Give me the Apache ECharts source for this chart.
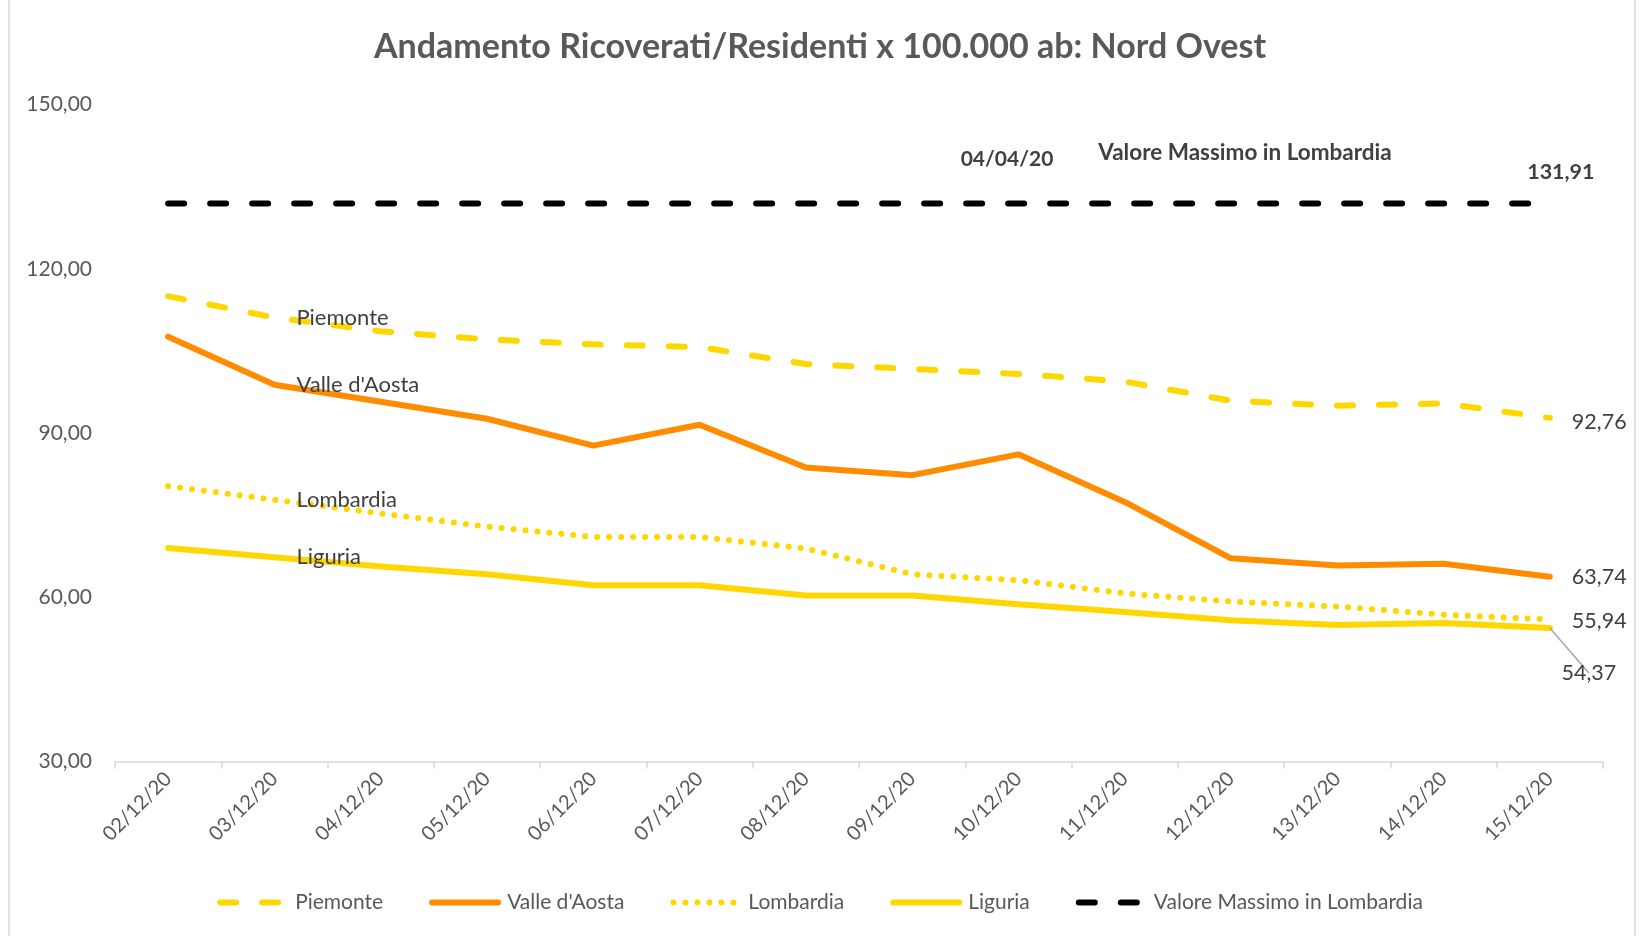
<!DOCTYPE html>
<html>
<head>
<meta charset="utf-8">
<script src="https://cdn.jsdelivr.net/npm/echarts@6.0.0/dist/echarts.min.js"></script>
<style>
  html, body { margin: 0; padding: 0; background: #fff; }
  #chart { width: 1640px; height: 936px; }
</style>
</head>
<body>
<div id="chart"></div>
<script>
const categories = ['02/12/20', '03/12/20', '04/12/20', '05/12/20', '06/12/20', '07/12/20', '08/12/20',
  '09/12/20', '10/12/20', '11/12/20', '12/12/20', '13/12/20', '14/12/20', '15/12/20']
const piemonte = [115.0, 111.1, 108.6, 107.1, 106.2, 105.7, 102.6, 101.7, 100.8, 99.4, 95.9, 95.0, 95.4, 92.76]
const valleAosta = [107.6, 98.8, 95.7, 92.6, 87.7, 91.5, 83.7, 82.3, 86.1, 77.4, 67.1, 65.8, 66.1, 63.74]
const lombardia = [80.3, 77.8, 75.3, 72.9, 71.0, 71.0, 68.9, 64.2, 63.1, 60.7, 59.2, 58.3, 56.8, 55.94]
const liguria = [69.0, 67.3, 65.6, 64.2, 62.2, 62.2, 60.3, 60.3, 58.7, 57.3, 55.8, 54.9, 55.3, 54.37]
const maxLombardia = categories.map(() => 131.91)
const yTicks = { min: 30, max: 150, interval: 30 }

const FONT = 'Lato'
const fmt = v => v.toFixed(2).replace('.', ',')

// etichetta nome serie sul 2° punto, valore sull'ultimo
const withLabels = (values, name, endLabel) => values.map((v, i) => {
  if (i === 1 && name) {
    return { value: v, symbol: 'circle', symbolSize: 0,
      label: { show: true, position: 'right', distance: 22, formatter: name, color: '#404040', fontSize: 22, fontFamily: FONT } }
  }
  if (i === values.length - 1 && endLabel) {
    return { value: v, symbol: 'circle', symbolSize: 0,
      label: Object.assign({ show: true, formatter: fmt(v), color: '#404040', fontSize: 21.5, fontFamily: FONT }, endLabel),
      labelLine: endLabel.labelLine }
  }
  return v
})

const chart = echarts.init(document.getElementById('chart'))
chart.setOption({
  animation: false,
  title: {
    text: 'Andamento Ricoverati/Residenti x 100.000 ab: Nord Ovest',
    left: 'center', top: 25,
    textStyle: { color: '#595959', fontSize: 34, fontWeight: 'bold', fontFamily: FONT }
  },
  legend: {
    bottom: 18, left: 'center',
    itemWidth: 66, itemHeight: 8, itemGap: 46,
    itemStyle: { opacity: 0 },
    lineStyle: { width: 6, cap: 'round' },
    textStyle: { color: '#595959', fontSize: 21, fontFamily: FONT, padding: [0, 0, 0, 4] },
    data: ['Piemonte', "Valle d'Aosta", 'Lombardia', 'Liguria', 'Valore Massimo in Lombardia']
  },
  grid: { left: 115, right: 37, top: 104.6, bottom: 174.6 },
  xAxis: {
    type: 'category', data: categories, boundaryGap: true,
    axisLine: { lineStyle: { color: '#d9d9d9', width: 1.5 } },
    axisTick: { show: true, length: 7, lineStyle: { color: '#d9d9d9', width: 1.5 } },
    axisLabel: { rotate: 45, interval: 0, margin: 14, color: '#595959', fontSize: 20, fontFamily: FONT }
  },
  yAxis: {
    type: 'value', min: yTicks.min, max: yTicks.max, interval: yTicks.interval,
    axisLine: { show: false }, axisTick: { show: false }, splitLine: { show: false },
    axisLabel: { margin: 23, color: '#595959', fontSize: 21, fontFamily: FONT, formatter: fmt }
  },
  graphic: [
    { type: 'rect', shape: { x: 9, y: -5, width: 1626, height: 950 }, style: { fill: 'none', stroke: '#d9d9d9', lineWidth: 1.5 }, silent: true },
    { type: 'text', x: 1007, y: 159, style: { text: '04/04/20', fill: '#404040', font: 'bold 21px ' + FONT, textAlign: 'center', textVerticalAlign: 'middle' } },
    { type: 'text', x: 1245, y: 153, style: { text: 'Valore Massimo in Lombardia', fill: '#404040', font: 'bold 22.5px ' + FONT, textAlign: 'center', textVerticalAlign: 'middle' } }
  ],
  series: [
    {
      name: 'Piemonte', type: 'line', symbol: 'none', z: 3,
      lineStyle: { color: '#FFD700', width: 6, type: [16, 26], cap: 'round' },
      itemStyle: { color: '#FFD700' },
      data: withLabels(piemonte, 'Piemonte', { position: 'right', distance: 22, offset: [0, 4] })
    },
    {
      name: "Valle d'Aosta", type: 'line', symbol: 'none', z: 3,
      lineStyle: { color: '#FF8C00', width: 6, cap: 'round' },
      itemStyle: { color: '#FF8C00' },
      data: withLabels(valleAosta, "Valle d'Aosta", { position: 'right', distance: 22 })
    },
    {
      name: 'Lombardia', type: 'line', symbol: 'none', z: 3,
      lineStyle: { color: '#FFD700', width: 6, type: [0.1, 11.9], cap: 'round' },
      itemStyle: { color: '#FFD700' },
      data: withLabels(lombardia, 'Lombardia', { position: 'right', distance: 22, offset: [0, 2] })
    },
    {
      name: 'Liguria', type: 'line', symbol: 'none', z: 3,
      lineStyle: { color: '#FFD700', width: 6, cap: 'round' },
      itemStyle: { color: '#FFD700' },
      data: withLabels(liguria, 'Liguria', { position: 'bottom', distance: 5, offset: [39, 29],
        labelLine: { show: true, lineStyle: { color: '#a6a6a6', width: 1.5 } } })
    },
    {
      name: 'Valore Massimo in Lombardia', type: 'line', symbol: 'none', z: 3,
      lineStyle: { color: '#000000', width: 6, type: [16, 26], cap: 'round' },
      itemStyle: { color: '#000000' },
      data: withLabels(maxLombardia, null, { position: 'top', distance: 5, offset: [11, -16], fontWeight: 'bold' })
    }
  ]
})
</script>
</body>
</html>
